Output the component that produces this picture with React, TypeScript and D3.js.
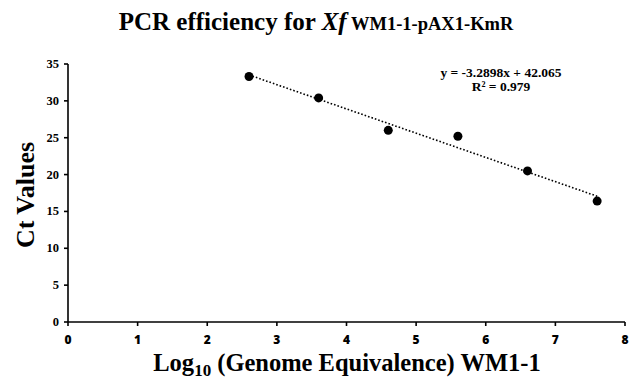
import React from "react";
import * as d3 from "d3";

const xValues = [2.6, 3.6, 4.6, 5.6, 6.6, 7.6];
const ctValues = [33.3, 30.4, 26.0, 25.2, 20.5, 16.4];
const xTicks = [0, 1, 2, 3, 4, 5, 6, 7, 8];
const yTicks = [0, 5, 10, 15, 20, 25, 30, 35];
const slope = -3.2898;
const intercept = 42.065;

export default function App() {
  const W = 641, H = 381;
  const x = d3.scaleLinear().domain([0, 8]).range([68, 625]);
  const y = d3.scaleLinear().domain([0, 35]).range([322, 64]);
  const font = "'Liberation Serif', 'Times New Roman', serif";
  const sans = "'Open Sans', 'Liberation Sans', sans-serif";
  const x0 = d3.min(xValues)!, x1 = d3.max(xValues)!;
  const line = d3.line<number>().x(d => x(d)).y(d => y(slope * d + intercept));
  return (
    <svg width={W} height={H} style={{ position: "absolute", left: 0, top: 0 }} fontFamily={font}>
      <rect width={W} height={H} fill="#fff" />
      <text x={316} y={30} textAnchor="middle" fontWeight="bold" fontSize={25}>
        PCR efficiency for <tspan fontStyle="italic">Xf</tspan>
        <tspan fontSize={18.5}> WM1-1-pAX1-KmR</tspan>
      </text>
      {/* axes */}
      <line x1={x(0)} x2={x(0)} y1={y(35)} y2={y(0)} stroke="#000" strokeWidth={1.6} />
      <line x1={x(0)} x2={x(8)} y1={y(0)} y2={y(0)} stroke="#000" strokeWidth={1.6} />
      {yTicks.map(t => (
        <g key={"y" + t}>
          <line x1={x(0) - 4} x2={x(0)} y1={y(t)} y2={y(t)} stroke="#000" strokeWidth={1.6} />
          <text x={x(0) - 9} y={y(t) + 4} textAnchor="end" fontSize={12.5} fontWeight="bold">{t}</text>
        </g>
      ))}
      {xTicks.map(t => (
        <g key={"x" + t}>
          <line x1={x(t)} x2={x(t)} y1={y(0)} y2={y(0) + 4} stroke="#000" strokeWidth={1.6} />
          <text x={x(t)} y={y(0) + 22} textAnchor="middle" fontSize={12} fontWeight={800} fontFamily={sans}>{t}</text>
        </g>
      ))}
      <path d={line([x0, x1]) || ""} stroke="#000" strokeWidth={1.6} strokeDasharray="1.6 2" fill="none" />
      {xValues.map((v, i) => (
        <circle key={i} cx={x(v)} cy={y(ctValues[i])} r={4.5} fill="#000" />
      ))}
      <text x={501} y={77} textAnchor="middle" fontSize={13.5} fontWeight="bold">y = -3.2898x + 42.065</text>
      <text x={501} y={91} textAnchor="middle" fontSize={13.5} fontWeight="bold">R² = 0.979</text>
      <text transform={`translate(34,${y(17.5) + 2}) rotate(-90)`} textAnchor="middle" fontSize={26} fontWeight="bold">Ct Values</text>
      <text x={347} y={371} textAnchor="middle" fontSize={24.5} fontWeight="bold">
        Log<tspan fontSize={17} dy={5}>10</tspan><tspan dy={-5}> (Genome Equivalence) WM1-1</tspan>
      </text>
    </svg>
  );
}
